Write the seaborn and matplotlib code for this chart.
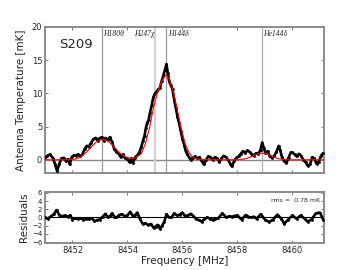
import numpy as np
import pandas as pd
import seaborn as sns
import matplotlib.pyplot as plt

# observed spectrum (MHz, mK)
freq = [8451.00, 8451.08, 8451.18, 8451.28, 8451.36, 8451.44, 8451.52, 8451.60, 8451.68, 8451.76,
        8451.84, 8451.90, 8451.97, 8452.05, 8452.12, 8452.20, 8452.28, 8452.36, 8452.44, 8452.52,
        8452.60, 8452.68, 8452.76, 8452.84, 8452.92, 8453.00, 8453.08, 8453.14, 8453.20, 8453.28,
        8453.36, 8453.44, 8453.52, 8453.60, 8453.68, 8453.76, 8453.84, 8453.92, 8454.00, 8454.08,
        8454.14, 8454.20, 8454.26, 8454.32, 8454.38, 8454.44, 8454.50, 8454.56, 8454.62, 8454.67,
        8454.72, 8454.77, 8454.82, 8454.88, 8454.94, 8455.00, 8455.06, 8455.12, 8455.18, 8455.24,
        8455.30, 8455.36, 8455.42, 8455.47, 8455.52, 8455.58, 8455.64, 8455.70, 8455.76, 8455.82,
        8455.88, 8455.94, 8456.00, 8456.06, 8456.12, 8456.18, 8456.24, 8456.30, 8456.38, 8456.46,
        8456.54, 8456.62, 8456.70, 8456.78, 8456.86, 8456.94, 8457.02, 8457.10, 8457.18, 8457.26,
        8457.34, 8457.42, 8457.50, 8457.58, 8457.66, 8457.74, 8457.80, 8457.88, 8457.96, 8458.04,
        8458.12, 8458.20, 8458.28, 8458.36, 8458.44, 8458.52, 8458.60, 8458.68, 8458.76, 8458.84,
        8458.90, 8458.96, 8459.02, 8459.10, 8459.18, 8459.26, 8459.34, 8459.42, 8459.50, 8459.56,
        8459.62, 8459.70, 8459.78, 8459.86, 8459.94, 8460.00, 8460.08, 8460.16, 8460.24, 8460.32,
        8460.40, 8460.48, 8460.56, 8460.64, 8460.72, 8460.80, 8460.88, 8460.96, 8461.04, 8461.12]
temp = [0.2, 0.6, 0.8, 0.3, -0.6, -1.7, -0.6, 0.2, 0.3, -0.2,
        0.1, -0.7, 0.4, 0.7, 0.6, 0.8, 0.5, 0.8, 1.6, 2.1,
        2.0, 2.6, 3.1, 3.3, 2.9, 3.3, 3.4, 2.9, 3.3, 3.0,
        3.4, 2.7, 1.6, 1.2, 0.9, 0.4, 0.8, 0.2, 0.1, -0.4,
        0.2, -0.5, 0.3, 0.5, 0.8, 1.2, 1.9, 2.8, 3.6, 4.8,
        5.6, 6.0, 7.1, 8.2, 9.4, 10.0, 10.3, 10.6, 10.8, 11.8,
        12.6, 13.5, 14.4, 13.0, 11.8, 11.2, 10.6, 9.0, 7.8, 6.5,
        5.5, 4.3, 3.2, 2.3, 1.3, 0.8, 0.4, 0.0, 0.3, 0.5,
        0.2, 0.4, -0.2, -0.7, 0.0, 0.5, 0.4, 0.0, 0.4, 0.2,
        -0.3, 0.2, 0.6, 0.4, 0.0, -0.6, -1.0, -0.2, 0.3, 0.5,
        0.9, 1.3, 1.0, 1.4, 1.2, 0.8, 0.6, 1.0, 0.9, 1.5,
        2.6, 1.8, 1.0, 1.3, 0.5, 0.3, 0.6, 1.2, 2.1, 1.4,
        0.4, -0.2, -0.5, 0.3, 1.1, 1.1, 0.8, 0.5, 0.9, 0.6,
        0.0, -0.4, -0.9, -0.7, 0.4, 0.2, -0.6, -0.3, 0.6, 1.0]

# model fit
model_freq = [8451.0, 8451.8, 8452.1, 8452.3, 8452.5, 8452.7, 8452.9, 8453.1, 8453.3, 8453.5,
              8453.7, 8453.9, 8454.1, 8454.3, 8454.5, 8454.65, 8454.8, 8454.95, 8455.1, 8455.25,
              8455.4, 8455.5, 8455.65, 8455.8, 8455.95, 8456.1, 8456.25, 8456.4, 8456.6, 8457.0,
              8458.0, 8458.3, 8458.5, 8458.7, 8458.9, 8459.1, 8459.3, 8459.5, 8459.8, 8461.15]
model_temp = [0.0, 0.0, 0.1, 0.4, 1.1, 2.0, 2.8, 3.1, 2.8, 2.0,
              1.1, 0.5, 0.2, 0.3, 0.9, 2.4, 4.8, 7.9, 10.3, 11.9,
              12.8, 12.3, 10.6, 7.8, 4.8, 2.4, 1.0, 0.3, 0.05, 0.0,
              0.0, 0.15, 0.45, 0.85, 1.0, 0.85, 0.45, 0.15, 0.0, 0.0]

# residuals
res_freq = [8451.00, 8451.10, 8451.22, 8451.32, 8451.42, 8451.52, 8451.62, 8451.72, 8451.82, 8451.92,
            8452.00, 8452.10, 8452.20, 8452.30, 8452.40, 8452.50, 8452.60, 8452.70, 8452.80, 8452.90,
            8453.00, 8453.10, 8453.20, 8453.28, 8453.36, 8453.44, 8453.52, 8453.60, 8453.70, 8453.80,
            8453.90, 8454.00, 8454.10, 8454.20, 8454.28, 8454.36, 8454.45, 8454.55, 8454.65, 8454.75,
            8454.85, 8454.95, 8455.02, 8455.10, 8455.18, 8455.26, 8455.34, 8455.42, 8455.50, 8455.60,
            8455.70, 8455.80, 8455.90, 8456.00, 8456.10, 8456.20, 8456.30, 8456.40, 8456.50, 8456.60,
            8456.70, 8456.80, 8456.90, 8457.00, 8457.10, 8457.20, 8457.30, 8457.45, 8457.60, 8457.70,
            8457.80, 8457.90, 8458.00, 8458.15, 8458.30, 8458.40, 8458.50, 8458.60, 8458.70, 8458.85,
            8459.00, 8459.15, 8459.30, 8459.45, 8459.60, 8459.70, 8459.85, 8460.00, 8460.15, 8460.30,
            8460.45, 8460.55, 8460.70, 8460.85, 8461.00, 8461.12]
res_val = [0.0, -0.3, 0.3, 0.8, 1.8, 0.6, 0.3, 0.5, 0.2, 0.5,
           -0.5, -0.2, -0.3, -0.2, -0.5, -0.3, -0.4, -0.2, -0.9, -0.6,
           -0.5, 0.2, 0.9, 0.1, 0.3, 1.0, 0.2, 0.0, 0.6, 0.8,
           0.3, 0.5, 1.4, 0.3, 0.6, 1.2, -0.3, -1.5, -1.4, -1.8,
           -1.6, -2.5, -2.2, -1.8, -2.7, -2.0, -1.0, 0.8, 0.1, 0.0,
           1.0, 0.5, 0.7, 1.2, 0.3, 0.5, 0.9, 0.3, -0.4, -0.6,
           -1.0, -0.4, 0.0, -0.3, -0.6, -0.3, -0.2, 1.0, 0.0, 0.3,
           0.2, 0.4, 0.5, -0.5, 0.6, 0.2, 0.0, 0.2, -0.3, 0.8,
           -0.5, -1.1, -0.5, 0.7, -0.3, -1.5, -0.5, 0.5, -0.3, 0.5,
           -0.3, -1.0, -0.5, 1.0, 1.2, -0.5]

line_freq = [8453.09, 8455.0, 8455.42, 8458.9]
line_names = ["H180θ", "H247χ", "H144δ", "He144δ"]
line_ha = ["left", "right", "left", "left"]
line_col = ["#a09a9a", "#d8d0d0", "#a09a9a", "#b8a8a8"]
line_lw = [0.9, 1.6, 0.9, 0.9]

df = pd.DataFrame({"freq": freq, "temp": temp})
df_model = pd.DataFrame({"freq": model_freq, "temp": model_temp})
df_res = pd.DataFrame({"freq": res_freq, "res": res_val})

sns.set_style("white")
plt.rcParams['font.family'] = ['DejaVu Sans']

fig = plt.figure(figsize=(3.6, 2.7), dpi=100)
ax1 = fig.add_axes([0.125, 0.359, 0.775, 0.541])
ax2 = fig.add_axes([0.125, 0.1, 0.775, 0.189])

xlim = (8451.0, 8461.15)

# top panel
ax1.axhline(0, color="#888888", lw=1.0, zorder=1)
for f, name, ha, c, lw in zip(line_freq, line_names, line_ha, line_col, line_lw):
    ax1.axvline(f, color=c, lw=lw, zorder=1)
    off = 0.04 if ha == "left" else -0.02
    ax1.text(f + off, 19.6, name, ha=ha, va="top", fontsize=5.5, style="italic",
             family=["Liberation Serif", "DejaVu Serif"])
sns.lineplot(data=df, x="freq", y="temp", ax=ax1, color="black", lw=1.9,
             marker="o", markersize=2, markeredgewidth=0, estimator=None, zorder=3)
sns.lineplot(data=df_model, x="freq", y="temp", ax=ax1, color="red", lw=0.8,
             estimator=None, zorder=4)
ax1.text(8451.5, 17.3, "S209", fontsize=9.5, va="center")
ax1.set_xlim(*xlim)
ax1.set_ylim(-2, 20)
ax1.set_yticks([0, 5, 10, 15, 20])
ax1.set_xticks([8452, 8454, 8456, 8458, 8460])
ax1.set_xticklabels([])
ax1.set_xlabel("")
ax1.set_ylabel("Antenna Temperature [mK]", fontsize=7.5)

# residual panel
ax2.axhline(0, color="black", lw=0.8, zorder=1)
sns.lineplot(data=df_res, x="freq", y="res", ax=ax2, color="black", lw=1.9,
             marker="o", markersize=2, markeredgewidth=0, estimator=None, zorder=3)
ax2.text(0.985, 0.88, "rms =  0.78 mK", transform=ax2.transAxes, ha="right",
         va="top", fontsize=4.5)
ax2.set_xlim(*xlim)
ax2.set_ylim(-6.2, 6.2)
ax2.set_yticks([-6, -4, -2, 0, 2, 4, 6])
ax2.set_xticks([8452, 8454, 8456, 8458, 8460])
ax2.set_xlabel("Frequency [MHz]", fontsize=7.5, labelpad=1)
ax2.set_ylabel("Residuals", fontsize=7.5, labelpad=2)

for ax, ys in ((ax1, 6), (ax2, 5)):
    for sp in ax.spines.values():
        sp.set_color("#8c8c8c")
        sp.set_linewidth(1.4)
    ax.tick_params(direction="in", length=2.5, width=0.6, color="#666666",
                   top=True, right=True, bottom=True, left=True, labelsize=6)
    ax.tick_params(axis="y", labelsize=ys, pad=2)
    ax.tick_params(axis="x", pad=2)

plt.savefig("out.png", dpi=100)
plt.close()
